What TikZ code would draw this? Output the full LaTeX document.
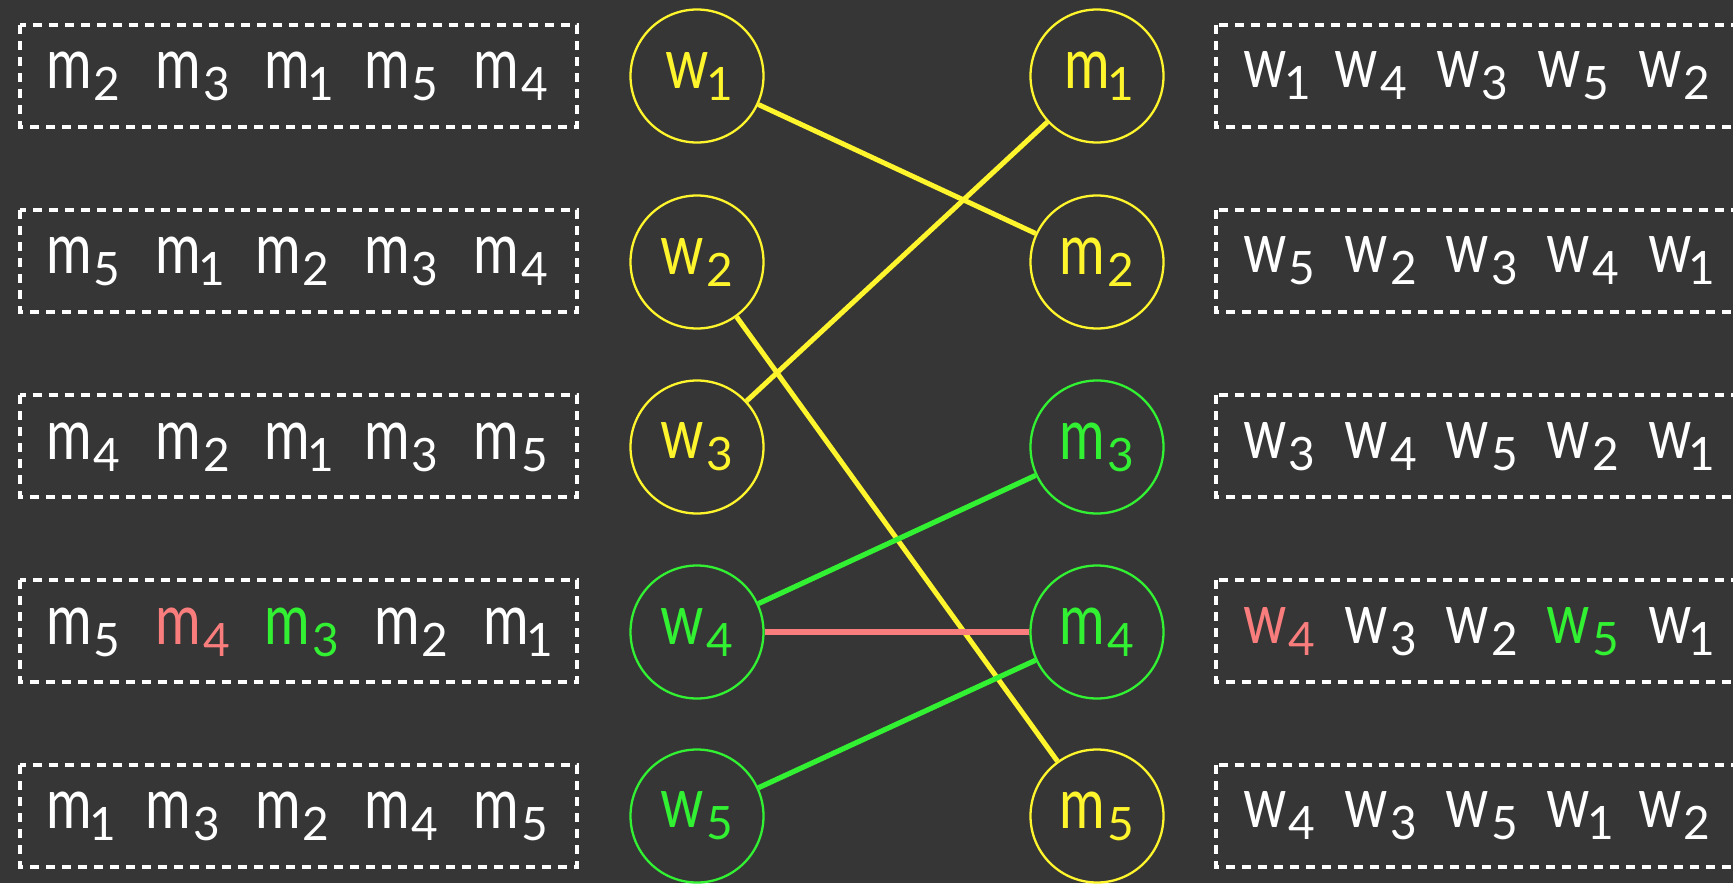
\documentclass[tikz,border=0pt]{standalone}
\usepackage{fontspec}
\setmainfont[FakeStretch=0.78]{Lato}
\newfontfamily\subfam{Lato}
\definecolor{board}{RGB}{54,54,54}
\definecolor{chyellow}{RGB}{255,245,45}
\definecolor{chgreen}{RGB}{50,240,50}
\definecolor{chred}{RGB}{250,125,125}
\newcommand{\dg}[1]{\ifnum#1=1 \makebox[8.5pt][c]{1}\else #1\fi}
\newcommand{\ent}[2]{#1\hspace{1pt}\raisebox{-6pt}{\subfam\fontsize{23}{28}\selectfont\dg{#2}}}
\newcommand{\gp}{\hspace{17.5pt}}
\newcommand{\gq}{\hspace{14.5pt}}
\tikzset{
  prefbox/.style={draw=white, dash pattern=on 4.7pt off 3.3pt, line width=1.6pt},
  preftext/.style={anchor=west, inner sep=0pt, text=white, font=\fontsize{35.5}{40}\selectfont},
  person/.style={circle, draw, line width=1.15pt, minimum size=66.5pt, inner sep=0pt, font=\fontsize{35.5}{40}\selectfont},
  ylw/.style={draw=chyellow, text=chyellow},
  grn/.style={draw=chgreen, text=chgreen},
  ylink/.style={draw=chyellow, line width=2.5pt},
  glink/.style={draw=chgreen, line width=2.6pt},
  rlink/.style={draw=chred, line width=3pt}
}
\begin{document}
\begin{tikzpicture}[x=0.5pt,y=-0.5pt]
\useasboundingbox (0,0) rectangle (1733,883);
\clip (0,0) rectangle (1733,883);
\fill[board] (0,0) rectangle (1733,883);
% left preference boxes
\draw[prefbox] (20,25) rectangle (577,127);
\draw[prefbox] (20,210) rectangle (577,312);
\draw[prefbox] (20,395) rectangle (577,497);
\draw[prefbox] (20,580) rectangle (577,682);
\draw[prefbox] (20,765) rectangle (577,867);
% right preference boxes
\draw[prefbox] (1216,25) rectangle (1760,127);
\draw[prefbox] (1216,210) rectangle (1760,312);
\draw[prefbox] (1216,395) rectangle (1760,497);
\draw[prefbox] (1216,580) rectangle (1760,682);
\draw[prefbox] (1216,765) rectangle (1760,867);
% left texts
\node[preftext] (lt1) at (46,76) {\ent{m}{2}\gp\ent{m}{3}\gp\ent{m}{1}\gp\ent{m}{5}\gp\ent{m}{4}};
\node[preftext] (lt2) at (46,261) {\ent{m}{5}\gp\ent{m}{1}\gp\ent{m}{2}\gp\ent{m}{3}\gp\ent{m}{4}};
\node[preftext] (lt3) at (46,447) {\ent{m}{4}\gp\ent{m}{2}\gp\ent{m}{1}\gp\ent{m}{3}\gp\ent{m}{5}};
\node[preftext] (lt4) at (46,632) {\ent{m}{5}\gp\textcolor{chred}{\ent{m}{4}}\gp\textcolor{chgreen}{\ent{m}{3}}\gp\ent{m}{2}\gp\ent{m}{1}};
\node[preftext] (lt5) at (46,816) {\ent{m}{1}\gp\ent{m}{3}\gp\ent{m}{2}\gp\ent{m}{4}\gp\ent{m}{5}};
% right texts
\node[preftext] (rt1) at (1243,76) {\ent{w}{1}\gq\ent{w}{4}\gq\ent{w}{3}\gq\ent{w}{5}\gq\ent{w}{2}};
\node[preftext] (rt2) at (1243,261) {\ent{w}{5}\gq\ent{w}{2}\gq\ent{w}{3}\gq\ent{w}{4}\gq\ent{w}{1}};
\node[preftext] (rt3) at (1243,447) {\ent{w}{3}\gq\ent{w}{4}\gq\ent{w}{5}\gq\ent{w}{2}\gq\ent{w}{1}};
\node[preftext] (rt4) at (1243,632) {\textcolor{chred}{\ent{w}{4}}\gq\ent{w}{3}\gq\ent{w}{2}\gq\textcolor{chgreen}{\ent{w}{5}}\gq\ent{w}{1}};
\node[preftext] (rt5) at (1243,816) {\ent{w}{4}\gq\ent{w}{3}\gq\ent{w}{5}\gq\ent{w}{1}\gq\ent{w}{2}};
% people
\node[person,ylw] (w1) at (697,76) {\ent{w}{1}};
\node[person,ylw] (w2) at (697,262) {\ent{w}{2}};
\node[person,ylw] (w3) at (697,447) {\ent{w}{3}};
\node[person,grn] (w4) at (697,632) {\ent{w}{4}};
\node[person,grn] (w5) at (697,816) {\ent{w}{5}};
\node[person,ylw] (m1) at (1097,76) {\ent{m}{1}};
\node[person,ylw] (m2) at (1097,262) {\ent{m}{2}};
\node[person,grn] (m3) at (1097,447) {\ent{m}{3}};
\node[person,grn] (m4) at (1097,632) {\ent{m}{4}};
\node[person,ylw] (m5) at (1097,816) {\ent{m}{5}};
% links
\draw[ylink] (w1) -- (m2);
\draw[ylink] (w3) -- (m1);
\draw[ylink] (w2) -- (m5);
\draw[glink] (w4) -- (m3);
\draw[glink] (w5) -- (m4);
\draw[rlink] (w4) -- (m4);
\end{tikzpicture}
\end{document}
